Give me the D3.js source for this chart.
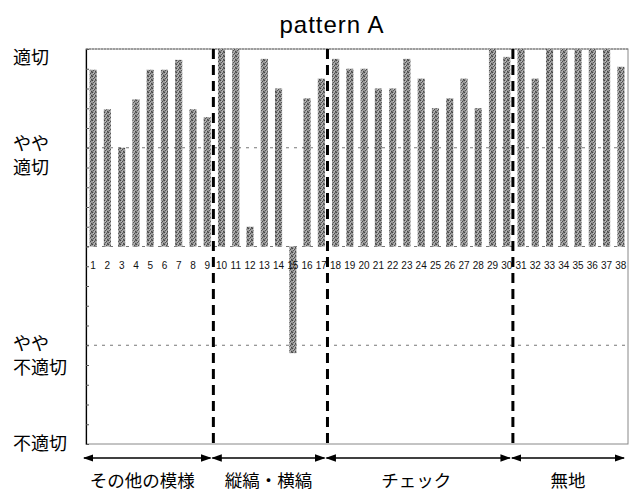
<!DOCTYPE html>
<html><head><meta charset="utf-8">
<script src="https://cdn.jsdelivr.net/npm/d3@7"></script>
<style>body{margin:0;background:#fff}svg{display:block}</style>
</head><body><svg id="c" width="631" height="493"></svg>
<script>
const title = "pattern A";
const itemLabels = ["1","2","3","4","5","6","7","8","9","10","11","12","13","14","15","16","17","18","19","20","21","22","23","24","25","26","27","28","29","30","31","32","33","34","35","36","37","38"];
const scores = [1.79,1.39,1.0,1.49,1.79,1.79,1.89,1.39,1.31, 2.0,2.0,0.2,1.9,1.6,-1.08,1.5,1.7, 1.9,1.8,1.8,1.6,1.6,1.9,1.7,1.4,1.5,1.7,1.4,2.0,1.92, 2.0,1.7,2.0,2.0,2.0,2.0,2.0,1.82];
const groupNames = ["その他の模様","縦縞・横縞","チェック","無地"];
const groupSizes = [9,8,13,8];
const levelValues = [2,1,-1,-2];
const levelLabels = [["適切"],["やや","適切"],["やや","不適切"],["不適切"]];

const svg = d3.select("#c");
const L=86,R=628,T=49,B=444;
const x = d3.scaleBand().domain(itemLabels).range([L,R]).paddingInner(0.5).paddingOuter(0.25);
const y = d3.scaleLinear().domain([-2,2]).range([B,T]);

const defs = svg.append("defs");
const pat = defs.append("pattern").attr("id","tex").attr("width",4).attr("height",4).attr("patternUnits","userSpaceOnUse");
pat.append("rect").attr("width",4).attr("height",4).attr("fill","#9a9a9a");
[[0,0,"#444"],[2,1,"#4d4d4d"],[1,2,"#555"],[3,3,"#484848"],[3,0,"#666"],[0,3,"#777"],[2,3,"#bbb"],[1,1,"#c0c0c0"]]
  .forEach(p=>pat.append("rect").attr("x",p[0]).attr("y",p[1]).attr("width",1).attr("height",1).attr("fill",p[2]));

// frame
svg.append("rect").attr("x",L).attr("y",T).attr("width",R-L).attr("height",B-T)
  .attr("fill","none").attr("stroke","#888").attr("stroke-width",1);
// gridlines
svg.append("g").selectAll("line").data([2,1,0,-1]).join("line")
  .attr("x1",L).attr("x2",R).attr("y1",d=>y(d)).attr("y2",d=>y(d))
  .attr("stroke","#777").attr("stroke-width",1).attr("stroke-dasharray",d=>d===2?"2,1":"3,5");

// bars
svg.append("g").selectAll("rect").data(scores).join("rect")
  .attr("x",(d,i)=>x(itemLabels[i])).attr("width",x.bandwidth())
  .attr("y",d=>y(Math.max(0,d))).attr("height",d=>Math.abs(y(d)-y(0)))
  .attr("fill","url(#tex)");

// left axis
const ax = svg.append("g").attr("transform",`translate(${L},0)`)
  .call(d3.axisRight(y).tickValues(d3.range(-20,21,2).map(v=>v/10)).tickSize(3).tickFormat(""));
ax.select(".domain").attr("stroke","#000").attr("stroke-width",1.2);
ax.selectAll(".tick line").attr("stroke","#555");

// item labels
svg.append("g").selectAll("text").data(itemLabels).join("text")
  .attr("x",d=>x(d)+x.bandwidth()/2).attr("y",269)
  .attr("text-anchor","middle").attr("font-family","Liberation Sans, Arial, sans-serif")
  .attr("font-size",10).attr("fill","#111").text(d=>d);

// group boundaries
let acc=0; const bounds=[L];
groupSizes.forEach(s=>{acc+=s; const lab=itemLabels[acc-1];
  bounds.push(acc<itemLabels.length ? x(lab)+x.step()*0.75 : R);});
svg.append("g").selectAll("line").data(bounds.slice(1,-1)).join("line")
  .attr("x1",d=>d-1).attr("x2",d=>d-1).attr("y1",T).attr("y2",B+4)
  .attr("stroke","#000").attr("stroke-width",3).attr("stroke-dasharray","10,6");

// arrows
defs.append("marker").attr("id","ah").attr("viewBox","0 0 10 10").attr("refX",9).attr("refY",5)
  .attr("markerWidth",7).attr("markerHeight",7).attr("orient","auto-start-reverse")
  .append("path").attr("d","M0,1.5L10,5L0,8.5Z").attr("fill","#000");
const ag = svg.append("g");
const nudge = [-5,0,-2,0];
groupNames.forEach((g,i)=>{
  const a=bounds[i]-2, b=bounds[i+1]-4;
  ag.append("line").attr("x1",a).attr("x2",b).attr("y1",458).attr("y2",458)
    .attr("stroke","#000").attr("stroke-width",1.5)
    .attr("marker-start","url(#ah)").attr("marker-end","url(#ah)");
  ag.append("text").attr("x",(a+b)/2+nudge[i]).attr("y",487).attr("text-anchor","middle")
    .attr("font-family","Noto Sans CJK JP, sans-serif").attr("font-size",17.5).attr("fill","#000").text(g);
});

// y level labels
const levelBase = [64,150,350,450];
levelValues.forEach((v,i)=>{
  const lines=levelLabels[i];
  const t=svg.append("text").attr("x",13).attr("font-family","Noto Sans CJK JP, sans-serif")
    .attr("font-size",18).attr("fill","#000");
  lines.forEach((s,k)=>t.append("tspan").attr("x",13).attr("y",levelBase[i]+k*24).text(s));
});

// title
svg.append("text").attr("x",332).attr("y",33).attr("text-anchor","middle")
  .attr("font-family","Liberation Sans, Arial, sans-serif").attr("font-size",24)
  .attr("letter-spacing",1).attr("fill","#000").text(title);
</script></body></html>
